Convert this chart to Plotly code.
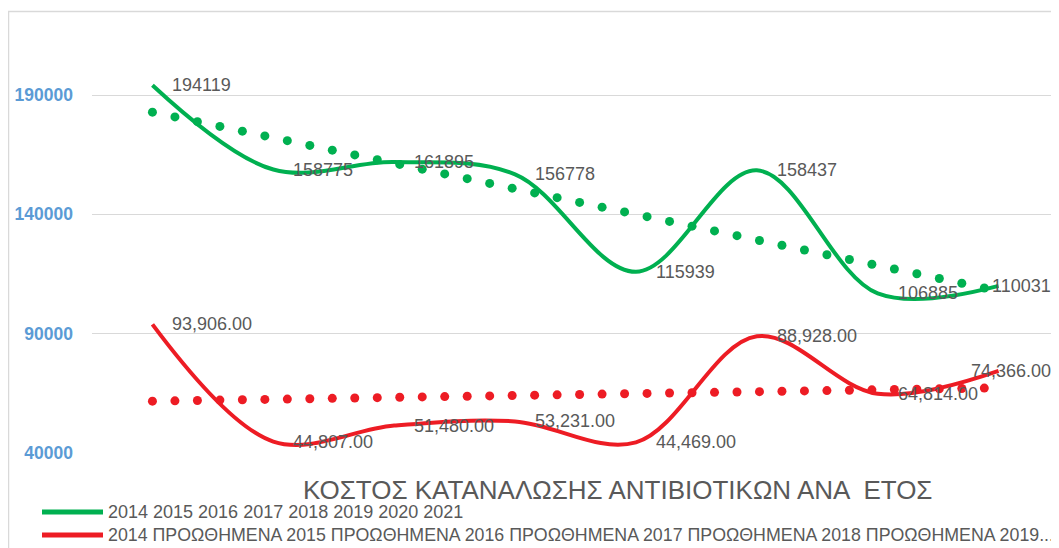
import numpy as np
import plotly.graph_objects as go

# ---- data ----
categories = ["2014", "2015", "2016", "2017", "2018", "2019", "2020", "2021"]
green_name = "2014 2015 2016 2017 2018 2019 2020 2021"
red_name = ("2014 ΠΡΟΩΘΗΜΕΝΑ 2015 ΠΡΟΩΘΗΜΕΝΑ 2016 ΠΡΟΩΘΗΜΕΝΑ "
            "2017 ΠΡΟΩΘΗΜΕΝΑ 2018 ΠΡΟΩΘΗΜΕΝΑ 2019...")
green_values = [194119, 158775, 161895, 156778, 115939, 158437, 106885, 110031]
red_values = [93906, 44807, 51480, 53231, 44469, 88928, 64814, 74366]
y_ticks = [40000, 90000, 140000, 190000]
title_text = "ΚΟΣΤΟΣ ΚΑΤΑΝΑΛΩΣΗΣ ΑΝΤΙΒΙΟΤΙΚΩΝ ΑΝΑ  ΕΤΟΣ"

GREEN = "#00B050"
RED = "#ED1C24"
GRAY = "#595959"
FONT = "Liberation Sans"

OFF = 8  # page body margin offset
W, H = 1059 - OFF, 548 - OFF
L, R, T, B = 92 - OFF, 0, 0, 95
pw, ph = W - L - R, H - T - B


def px(x):
    return (x - OFF - L) / pw


def py(y):
    return (H - B - (y - OFF)) / ph


x = np.arange(len(categories))
fig = go.Figure()

# linear trendlines drawn as round dots
step = 0.186
tpos = np.arange(0, len(categories) - 1 + 1e-9, step)
for vals, col in [(green_values, GREEN), (red_values, RED)]:
    coef = np.polyfit(x, vals, 1)
    fig.add_trace(go.Scatter(x=tpos, y=np.polyval(coef, tpos), mode="markers",
                             marker=dict(color=col, size=9),
                             showlegend=False, hoverinfo="skip"))

fig.add_trace(go.Scatter(x=x, y=green_values, mode="lines", name=green_name,
                         line=dict(color=GREEN, width=4, shape="spline", smoothing=1.0),
                         showlegend=False))
fig.add_trace(go.Scatter(x=x, y=red_values, mode="lines", name=red_name,
                         line=dict(color=RED, width=4, shape="spline", smoothing=1.0),
                         showlegend=False))

annotations = []
last = len(categories) - 1
for vals, fmt in [(green_values, "{:d}"), (red_values, "{:,.2f}")]:
    for i, v in enumerate(vals):
        if i == last:
            anchor, shift = "right", 54
        else:
            anchor, shift = "left", 18
        annotations.append(dict(x=i, y=v, xref="x", yref="y", text=fmt.format(v),
                                showarrow=False, xanchor=anchor, yanchor="middle",
                                xshift=shift,
                                font=dict(family=FONT, size=18, color=GRAY)))

# title
annotations.append(dict(x=px(617), y=py(490), xref="paper", yref="paper",
                        text=title_text, showarrow=False, xanchor="center",
                        yanchor="middle", font=dict(family=FONT, size=26, color=GRAY)))
# legend texts
for name, yy, fs in [(green_name, 512, 18), (red_name, 535, 17.8)]:
    annotations.append(dict(x=px(106), y=py(yy), xref="paper", yref="paper",
                            text=name, showarrow=False, xanchor="left",
                            yanchor="middle", font=dict(family=FONT, size=fs, color=GRAY)))

shapes = [
    dict(type="line", xref="paper", yref="paper", x0=px(42), x1=px(103),
         y0=py(512), y1=py(512), line=dict(color=GREEN, width=5)),
    dict(type="line", xref="paper", yref="paper", x0=px(42), x1=px(103),
         y0=py(535), y1=py(535), line=dict(color=RED, width=5)),
    # chart border (top and left)
    dict(type="line", xref="paper", yref="paper", x0=px(8.5), x1=px(8.5),
         y0=py(11), y1=py(560), line=dict(color="#D9D9D9", width=1.5)),
    dict(type="line", xref="paper", yref="paper", x0=px(8), x1=px(1058),
         y0=py(11.5), y1=py(11.5), line=dict(color="#D9D9D9", width=1.5)),
]

y_top = 190000 + (95 - OFF) / 119.3 * 50000

fig.update_layout(
    width=W, height=H,
    margin=dict(l=L, r=R, t=T, b=B),
    paper_bgcolor="white", plot_bgcolor="white",
    showlegend=False,
    annotations=annotations, shapes=shapes,
    xaxis=dict(range=[-0.5, len(categories) - 0.5], showgrid=False,
               showticklabels=False, zeroline=False, showline=False),
    yaxis=dict(range=[40000, y_top], tickvals=y_ticks, tickformat="d",
               showgrid=True, gridcolor="#D9D9D9", gridwidth=1,
               zeroline=False, showline=False, ticklabelstandoff=18,
               tickfont=dict(family=FONT, size=17.5, color="#5B9BD5", weight="bold")),
)

fig.write_html("out.html")
